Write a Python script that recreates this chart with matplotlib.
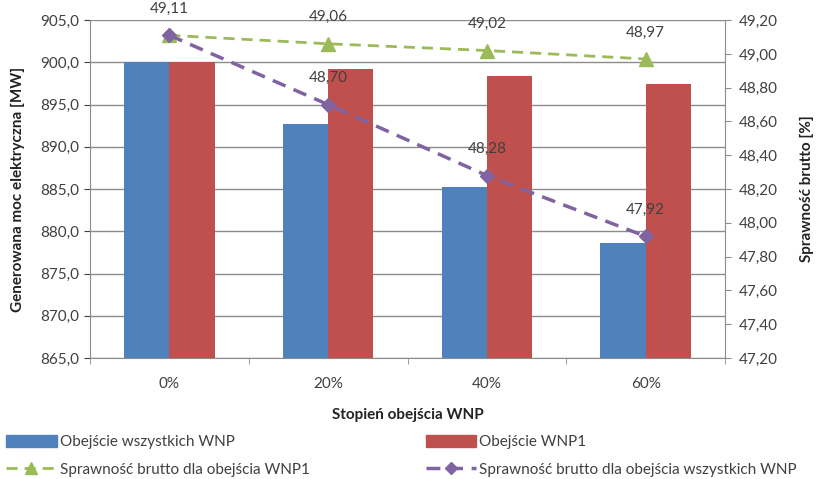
import matplotlib.pyplot as plt
from matplotlib.lines import Line2D
from matplotlib.patches import Patch
import numpy as np

plt.rcParams['font.family'] = ['Lato', 'DejaVu Sans']

# Data
categories = ["0%", "20%", "40%", "60%"]
moc_wszystkie = [900.0, 892.7, 885.2, 878.6]
moc_wnp1 = [900.0, 899.2, 898.4, 897.4]
spr_wnp1 = [49.11, 49.06, 49.02, 48.97]
spr_wszystkie = [49.11, 48.70, 48.28, 47.92]

blue = "#4F81BD"
red = "#C0504D"
green = "#9BBB59"
purple = "#8064A2"
grid_col = "#8C8C8C"
txt_col = "#404040"

fig = plt.figure(figsize=(8.22, 4.79), dpi=100)
ax = fig.add_axes([0.1095, 0.2526, 0.7725, 0.7054])

x = np.arange(len(categories))
w = 0.285

ax.bar(x - w / 2, moc_wszystkie, w, color=blue, zorder=2)
ax.bar(x + w / 2, moc_wnp1, w, color=red, zorder=2)

ax.set_ylim(865, 905)
ax.set_yticks(np.arange(865, 905.1, 5))
ax.set_yticklabels([f"{v:.1f}".replace(".", ",") for v in np.arange(865, 905.1, 5)])
ax.set_xlim(-0.5, 3.5)
ax.set_xticks(x)
ax.set_xticklabels(categories)
ax.set_xticks(np.arange(-0.5, 3.6, 1), minor=True)
ax.tick_params(axis="x", which="major", length=0, pad=14)
ax.tick_params(axis="x", which="minor", length=4, color=grid_col)
ax.tick_params(axis="y", length=4, color=grid_col)
ax.tick_params(labelsize=11, colors=txt_col)
ax.yaxis.grid(True, color=grid_col, linewidth=1)
ax.set_axisbelow(True)

for s in ["top", "right"]:
    ax.spines[s].set_visible(False)
for s in ["left", "bottom"]:
    ax.spines[s].set_color(grid_col)

ax.set_xlabel("Stopień obejścia WNP", fontsize=11, fontweight="bold", color="#222222", labelpad=12)
ax.set_ylabel("Generowana moc elektryczna [MW]", fontsize=11, fontweight="bold", color="#222222", labelpad=11)

# Efficiency on the secondary axis
ax2 = ax.twinx()
ax2.set_ylim(47.2, 49.2)
r_ticks = np.arange(47.2, 49.21, 0.2)
ax2.set_yticks(r_ticks)
ax2.set_yticklabels([f"{v:.2f}".replace(".", ",") for v in r_ticks])
ax2.tick_params(axis="y", length=4, color=grid_col, labelsize=11, colors=txt_col, pad=6)
for s in ["top", "left", "bottom"]:
    ax2.spines[s].set_visible(False)
ax2.spines["right"].set_color(grid_col)
ax2.set_ylabel("Sprawność brutto [%]", fontsize=11, fontweight="bold", color="#222222", labelpad=16)

ax2.plot(x, spr_wnp1, color=green, linestyle=(0, (4, 2.5)), linewidth=2,
         marker="^", markersize=10, zorder=3)
ax2.plot(x, spr_wszystkie, color=purple, linestyle=(0, (4, 2.5)), linewidth=2.5,
         marker="D", markersize=7, zorder=4)

for i, v in enumerate(spr_wnp1):
    if i == 0:
        continue
    ax2.annotate(f"{v:.2f}".replace(".", ","), (x[i], v), xytext=(0, 19),
                 textcoords="offset points", ha="center", va="center",
                 fontsize=11, color=txt_col)
for i, v in enumerate(spr_wszystkie):
    ax2.annotate(f"{v:.2f}".replace(".", ","), (x[i], v), xytext=(0, 19),
                 textcoords="offset points", ha="center", va="center",
                 fontsize=11, color=txt_col)

handles = [
    Patch(color=blue, label="Obejście wszystkich WNP"),
    Line2D([], [], color=green, linestyle=(0, (4, 2.5)), linewidth=2, marker="^",
           markersize=8, label="Sprawność brutto dla obejścia WNP1"),
    Patch(color=red, label="Obejście WNP1"),
    Line2D([], [], color=purple, linestyle=(0, (4, 2.5)), linewidth=2.5, marker="D",
           markersize=6, label="Sprawność brutto dla obejścia wszystkich WNP"),
]
fig.legend(handles=handles, loc="upper left", bbox_to_anchor=(0.0, 0.105), ncol=2,
           frameon=False, fontsize=11, handlelength=3.3, handleheight=0.8,
           columnspacing=7.6, labelspacing=0.9, handletextpad=0.2,
           borderaxespad=0, labelcolor=txt_col)

fig.savefig("out.png", dpi=100)
